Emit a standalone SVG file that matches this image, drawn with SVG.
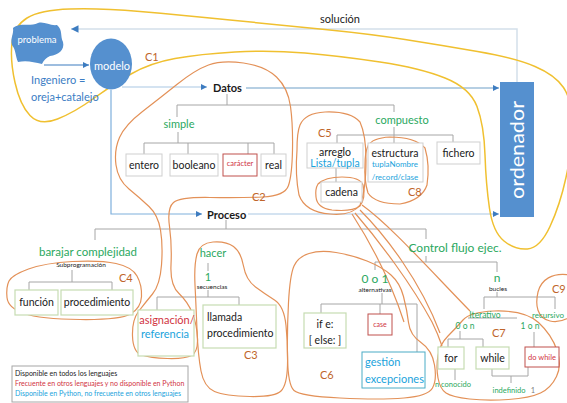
<svg xmlns="http://www.w3.org/2000/svg" width="567" height="403" viewBox="0 0 567 403">
<style>
text{font-family:Lato,"Liberation Sans",sans-serif;}
.m{text-anchor:middle;}
.bk{fill:#1a1a1a;}
.g{fill:#2aa860;}
.cy{fill:#1aa3dc;}
.rd{fill:#d1343f;}
.lb{fill:#c0652a;font-size:11px;}
.w{fill:#ffffff;}
.box{fill:#ffffff;stroke:#cfcfcf;stroke-width:1;}
.gb{fill:#ffffff;stroke:#c6dcb2;stroke-width:1.2;}
.rb{fill:#ffffff;stroke:#c0504d;stroke-width:1;}
.cb{fill:#ffffff;stroke:#4bacc6;stroke-width:1;}
.tree{fill:none;stroke:#a6a6a6;stroke-width:1;}
.lasso{fill:none;stroke:#e39158;stroke-width:1.2;}
.yel{fill:none;stroke:#f0c030;stroke-width:1.5;}
.node{fill:#5590cf;}
</style>
<defs>
<marker id="arr" viewBox="0 0 6 6" refX="6" refY="3" markerWidth="5" markerHeight="5" orient="auto">
<path d="M0,0 L6,3 L0,6 z" fill="#3d7cc0"/>
</marker>
</defs>
<rect width="567" height="403" fill="#ffffff"/>

<!-- connectors -->
<g id="connectors">
<path d="M517,82 V29 H71" fill="none" stroke="#d3e0ea" stroke-width="1.5" marker-end="url(#arr)"/>
<path d="M44,65 H89" fill="none" stroke="#3d7cc0" stroke-width="1.2" marker-end="url(#arr)"/>
<path d="M122,87 H207" fill="none" stroke="#a9c8e4" stroke-width="1.2" marker-end="url(#arr)"/>
<path d="M111,90 V214 H202" fill="none" stroke="#7fb0dc" stroke-width="1.2" marker-end="url(#arr)"/>
<path d="M246,88 H499" fill="none" stroke="#6f9fc8" stroke-width="1.2" marker-end="url(#arr)"/>
<path d="M248,214 H499" fill="none" stroke="#a9c8e4" stroke-width="1.2" marker-end="url(#arr)"/>
<!-- Datos tree -->
<path class="tree" d="M227,94 V105 M177,105 H394 M177,105 V117 M394,105 V112"/>
<path class="tree" d="M178,132 V143 M144,143 H274 M144,143 V154 M188,143 V154 M248,143 V154 M274,143 V154"/>
<path class="tree" d="M394,127 V135 M337,135 H453 M337,135 V143 M394,135 V143 M453,135 V142 M336,168 V182"/>
<!-- Proceso tree -->
<path class="tree" d="M226,220 V229 M95,229 H426 M95,229 V240 M426,229 V239 M426,256 V262 M375,262 H497 M375,262 V270 M497,262 V272"/>
<path class="tree" d="M72,270 V282 M29,282 H112 M29,282 V290 M112,282 V290"/>
<path class="tree" d="M208,263 V271 M208,290 V297 M157,297 H239 M157,297 V310 M239,297 V305"/>
<path class="tree" d="M382,293 V304 M321,304 H417 M321,304 V313 M380,304 V314 M417,304 V352"/>
<path class="tree" d="M497,292 V297 M484,297 H555 M484,297 V309 M555,297 V309 M468,318 H517"/>
<path class="tree" d="M460,331 V339 M448,339 H483 M448,339 V347 M483,339 V347 M534,332 V347"/>
<path class="tree" d="M455,369 V380 M492,369 V376 H528 V367 M511,376 V383"/>
</g>

<!-- lassos -->
<g id="lassos">
<path class="yel" d="M57.5,119 Q75,112 93.5,98.5 Q112,85 131,74 Q150,63 175,58.5 Q200,54 235,52 Q270,50 305,53 Q340,56 380,62 Q420,68 445,78 Q470,88 477,106.5 Q484,125 485,155 Q486,185 489.5,208.5 Q493,232 504,241 Q515,250 527.5,249 Q540,248 550,226.5 Q560,205 566,177.5 Q572,150 572,125 Q572,100 563.5,87.5 Q555,75 535,66.5 Q515,58 477.5,51.5 Q440,45 405,39.5 Q370,34 325,29.5 Q280,25 230,20 Q180,15 140,11.5 Q100,8 70,9 Q40,10 27,18 Q14,26 12,43 Q10,60 15,82.5 Q20,105 30,115.5 Q40,126 57.5,119 Z"/>
<path class="lasso" d="M243.5,63 Q265,66 276.5,77 Q288,88 290.5,106.5 Q293,125 292.5,150 Q292,175 288.5,185.5 Q285,196 262.5,197 Q240,198 210,197.5 Q180,197 173.5,202.5 Q167,208 169.5,226.5 Q172,245 171,265 Q170,285 179,293.5 Q188,302 192.5,313.5 Q197,325 197.5,338.5 Q198,352 191.5,355.5 Q185,359 167.5,358.5 Q150,358 141.5,355 Q133,352 132.5,336 Q132,320 138.5,311.5 Q145,303 152.5,294 Q160,285 161.5,265 Q163,245 160.5,230 Q158,215 149,206.5 Q140,198 129,189 Q118,180 116,165 Q114,150 119.5,137.5 Q125,125 142.5,111.5 Q160,98 177.5,84 Q195,70 208.5,65 Q222,60 243.5,63 Z"/>
<path class="lasso" d="M28.5,269 Q45,263 72.5,261.5 Q100,260 116,263.5 Q132,267 137,276 Q142,285 141.5,296.5 Q141,308 130.5,314 Q120,320 80,319.5 Q40,319 24,313.5 Q8,308 7,297.5 Q6,287 9,281 Q12,275 28.5,269 Z"/>
<path class="lasso" d="M213,242 Q226,241 233.5,246.5 Q241,252 243.5,266 Q246,280 255.5,287 Q265,294 274.5,300 Q284,306 286,325.5 Q288,345 287.5,365 Q287,385 281,391 Q275,397 250,396.5 Q225,396 214.5,391.5 Q204,387 201,371 Q198,355 197,330 Q196,305 195,285 Q194,265 197,254 Q200,243 213,242 Z"/>
<path class="lasso" d="M294,266 Q298,257 309,253.5 Q320,250 336,252.5 Q352,255 367,261 Q382,267 391,275 Q400,283 403.5,296.5 Q407,310 408.5,322.5 Q410,335 421,342.5 Q432,350 434.5,365 Q437,380 432.5,388 Q428,396 404,398 Q380,400 340,398 Q300,396 294,390.5 Q288,385 287.5,357.5 Q287,330 288.5,302.5 Q290,275 294,266 Z"/>
<path class="lasso" d="M463,320 Q470,312 494,311 Q525,310 538.5,322.5 Q552,335 557,350.5 Q562,365 556.5,376.5 Q551,388 540.5,393 Q530,398 508.5,399.5 Q487,401 469.5,399 Q452,397 446,393 Q440,389 438,378 Q436,367 438,355.5 Q440,344 448,336 Q456,328 463,320 Z"/>
<path class="lasso" d="M300,125 Q305,113 325,112 Q350,111 360,122 Q366,135 366,160 Q366,190 360,205 Q352,216 330,214 Q305,212 299,195 Q295,175 297,150 Q297,132 300,125 Z"/>
<path class="lasso" d="M318,184 Q325,177 342,177 Q360,177 363,185 Q366,198 360,206 Q352,212 332,210 Q317,208 316,197 Q315,189 318,184 Z"/>
<path class="lasso" d="M368,146 Q372,138 390,137 Q415,137 425,148 Q430,165 427,185 Q422,200 400,204 Q375,204 368,193 Q364,180 365,165 Q365,152 368,146 Z"/>
<path class="lasso" d="M362,205 C390,225 430,270 470,311"/>
<path class="lasso" d="M360,210 C385,235 420,280 440,333"/>
<path class="lasso" d="M355,213 C380,242 412,285 432,322 C437,332 440,340 442,346"/>
<path class="lasso" d="M352,214 C372,245 392,285 404,322"/>
<path class="lasso" d="M570,275 C552,272 541,280 538,292 C535,305 537,318 550,321 C558,323 565,320 570,317"/>
</g>

<!-- nodes -->
<g id="problema">
<path class="node" d="M13,28 C20,22 30,27 38,23 C44,21 50,26 57,25 C63,30 60,36 63,42 C65,50 58,55 50,56 C46,58 44,60 42,64 C34,62 26,60 18,62 C15,55 16,50 12,45 C10,38 14,34 13,28 Z"/>
<text class="w m" x="37" y="43" font-size="9.5">problema</text>
</g>
<g id="modelo">
<ellipse class="node" cx="111" cy="64" rx="21" ry="25.5"/>
<text class="w m" x="112" y="70" font-size="11">modelo</text>
</g>
<g id="ingeniero">
<text x="31" y="84" font-size="11" fill="#3b7dc4">Ingeniero =</text>
<text x="31" y="101" font-size="11" fill="#3b7dc4">oreja+catalejo</text>
</g>
<g id="ordenador">
<rect class="node" x="500" y="82" width="34" height="135"/>
<text class="w m" transform="translate(524,150) rotate(-90)" font-size="19" textLength="98" lengthAdjust="spacingAndGlyphs">ordenador</text>
</g>
<g id="solucion"><text class="bk m" x="340" y="23" font-size="11">solución</text></g>
<g id="datos"><text class="bk" x="213" y="92" font-size="11" font-weight="bold">Datos</text></g>
<g id="proceso"><text class="bk" x="207" y="219" font-size="11" font-weight="bold">Proceso</text></g>
<g id="simple"><text class="g m" x="179" y="128" font-size="11">simple</text></g>
<g id="compuesto"><text class="g m" x="402" y="124" font-size="11">compuesto</text></g>
<g id="entero"><rect class="box" x="126" y="154" width="36" height="22"/><text class="bk m" x="144" y="169" font-size="10.5">entero</text></g>
<g id="booleano"><rect class="box" x="170" y="154" width="48" height="22"/><text class="bk m" x="194" y="169" font-size="10.5">booleano</text></g>
<g id="caracter"><rect class="rb" x="223" y="154" width="34" height="22"/><text class="rd m" x="240" y="166" font-size="7.5">carácter</text></g>
<g id="real"><rect class="box" x="261" y="154" width="25" height="22"/><text class="bk m" x="273.5" y="169" font-size="10.5">real</text></g>
<g id="arreglo"><rect class="box" x="307" y="143" width="56" height="25"/><text class="bk m" x="335" y="156" font-size="10.5">arreglo</text><text class="cy m" x="335" y="167" font-size="10.5">Lista/tupla</text></g>
<g id="estructura"><rect class="box" x="368" y="143" width="55" height="39"/><text class="bk m" x="395" y="157" font-size="10.5">estructura</text><text class="cy m" x="395" y="167" font-size="8">tuplaNombre</text><text class="cy m" x="395" y="180" font-size="8">/record/clase</text></g>
<g id="fichero"><rect class="box" x="437" y="142" width="43" height="22"/><text class="bk m" x="458.5" y="157" font-size="10.5">fichero</text></g>
<g id="cadena"><rect class="box" x="321" y="182" width="41" height="20"/><text class="bk m" x="341.5" y="196" font-size="10.5">cadena</text></g>
<g id="control"><text class="g m" x="455" y="252" font-size="12">Control flujo ejec.</text></g>
<g id="barajar"><text class="g m" x="88" y="256" font-size="11.5">barajar complejidad</text><text class="bk m" x="81" y="266.5" font-size="6.5">Subprogramación</text></g>
<g id="funcion"><rect class="gb" x="15" y="290" width="43" height="25"/><text class="bk m" x="36.5" y="306" font-size="10.5">función</text></g>
<g id="procedimiento"><rect class="gb" x="61" y="290" width="72" height="25"/><text class="bk m" x="97" y="306" font-size="10.5">procedimiento</text></g>
<g id="hacer"><text class="g m" x="213" y="257" font-size="11">hacer</text><text class="g m" x="208" y="281" font-size="11">1</text><text class="bk m" x="212" y="288.5" font-size="6.5">secuencias</text></g>
<g id="asignacion"><rect class="gb" x="138" y="310" width="56" height="46"/><text class="rd m" x="167" y="324" font-size="11">asignación/</text><text class="cy m" x="165" y="338" font-size="11">referencia</text></g>
<g id="llamada"><rect class="gb" x="203" y="305" width="73" height="43"/><text class="bk" x="207" y="321" font-size="10.5">llamada</text><text class="bk" x="207" y="337" font-size="10.5">procedimiento</text></g>
<g id="alternativas"><text class="g m" x="375" y="283" font-size="12">0 o 1</text><text class="bk m" x="375" y="291.5" font-size="6.5">alternativas</text></g>
<g id="ife"><rect class="gb" x="304" y="313" width="42" height="35"/><text class="bk m" x="325" y="328" font-size="10.5">if e:</text><text class="bk m" x="325" y="344" font-size="10.5">[ else: ]</text></g>
<g id="case"><rect class="rb" x="368" y="314" width="24" height="21"/><text class="rd m" x="380" y="327" font-size="7">case</text></g>
<g id="gestion"><rect class="cb" x="362" y="352" width="63" height="36"/><text class="cy" x="365" y="366" font-size="11">gestión</text><text class="cy" x="365" y="383" font-size="11">excepciones</text></g>
<g id="bucles"><text class="g m" x="497" y="282" font-size="12">n</text><text class="bk m" x="498" y="290.5" font-size="6.5">bucles</text></g>
<g id="iterativo"><text class="g m" x="485" y="318" font-size="8.5">Iterativo</text><text class="g m" x="465" y="329" font-size="8.5">0 o n</text><text class="g m" x="530" y="329" font-size="8.5">1 o n</text></g>
<g id="recursivo"><text class="g" x="564" y="318" font-size="8" text-anchor="end">recursivo</text></g>
<g id="for"><rect class="gb" x="438" y="347" width="26" height="22"/><text class="bk m" x="451" y="362" font-size="10.5">for</text><text class="g m" x="453" y="387" font-size="7.5">n conocido</text></g>
<g id="while"><rect class="gb" x="476" y="347" width="33" height="22"/><text class="bk m" x="492.5" y="362" font-size="10.5">while</text></g>
<g id="dowhile"><rect class="rb" x="525" y="347" width="34" height="20"/><text class="rd m" x="542" y="360" font-size="7.5">do while</text></g>
<g id="indefinido"><text class="g m" x="509" y="393" font-size="7.5">indefinido</text><text class="m" x="533" y="393" font-size="7.5" fill="#808080">1</text></g>
<g id="labels">
<text class="lb" x="145" y="61">C1</text>
<text class="lb" x="252" y="201">C2</text>
<text class="lb" x="244" y="359">C3</text>
<text class="lb" x="119" y="282">C4</text>
<text class="lb" x="318" y="137">C5</text>
<text class="lb" x="320" y="379">C6</text>
<text class="lb" x="492" y="337">C7</text>
<text class="lb" x="408" y="196">C8</text>
<text class="lb" x="552" y="293">C9</text>
</g>
<g id="legend">
<rect x="12" y="366" width="176" height="36" fill="#ffffff" stroke="#a6a6a6" stroke-width="1"/>
<text x="15" y="376" font-size="7" fill="#1a1a1a">Disponible en todos los lenguajes</text>
<text x="15" y="386" font-size="7" fill="#d1343f">Frecuente en otros lenguajes y no disponible en Python</text>
<text x="15" y="396" font-size="7" fill="#1aa3dc">Disponible en Python, no frecuente en otros lenguajes</text>
</g>
</svg>
